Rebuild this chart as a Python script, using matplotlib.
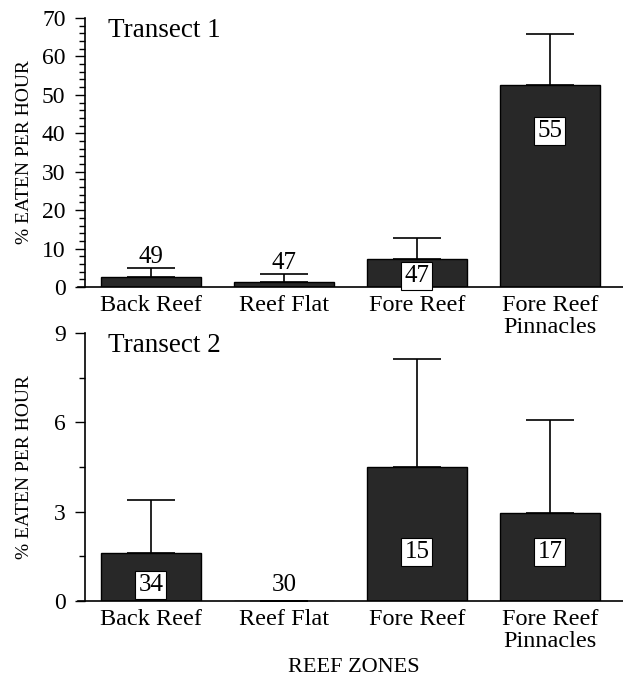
import matplotlib
matplotlib.use("Agg")
import matplotlib.pyplot as plt
import numpy as np

zones = ["Back Reef", "Reef Flat", "Fore Reef", "Fore Reef\nPinnacles"]

# transect 1: mean % eaten per hour, upper error, sample size
t1_mean = [2.6, 1.3, 7.3, 52.6]
t1_err = [2.3, 2.1, 5.5, 13.3]
t1_n = [49, 47, 47, 55]

# transect 2
t2_mean = [1.62, 0.0, 4.51, 2.96]
t2_err = [1.77, 0.0, 3.63, 3.11]
t2_n = [34, 30, 15, 17]

plt.rcParams['font.family'] = ['Liberation Serif', 'DejaVu Serif']

fig = plt.figure(figsize=(6.23, 6.80), dpi=100)
ax1 = fig.add_axes([85 / 623, 393 / 680, 538 / 623, 269 / 680])
ax2 = fig.add_axes([85 / 623, 79 / 680, 538 / 623, 268 / 680])

bar_color = '#282828'
box = dict(boxstyle='square,pad=0.12', facecolor='white', edgecolor='black', lw=0.8)


def draw_panel(ax, means, errs, ns, ymax, major, minor, title, label_y, boxed):
    x = np.arange(len(zones))
    lower = np.zeros(len(errs))
    ax.bar(x, means, width=0.75, color=bar_color, edgecolor='black', lw=1.0,
           zorder=2)
    ax.errorbar(x, means, yerr=[lower, errs], fmt='none', ecolor='black',
                elinewidth=1.2, capsize=17, capthick=1.2, zorder=1)
    for i in range(len(x)):
        ax.text(x[i], label_y[i], str(ns[i]), ha='center', va='center',
                fontsize=18, zorder=3, bbox=box if boxed[i] else None)
    ax.set_xlim(-0.496, 3.55)
    ax.set_ylim(0, ymax)
    ax.set_yticks(np.arange(0, ymax + 0.01, major))
    ax.set_yticks(np.arange(0, ymax + 0.01, minor), minor=True)
    ax.set_xticks(x)
    ax.set_xticklabels(zones, fontsize=17.5, linespacing=1.02)
    ax.tick_params(axis='x', length=0, pad=6)
    ax.tick_params(axis='y', which='major', length=7, width=1.0, labelsize=17,
                   direction='out', pad=7)
    ax.tick_params(axis='y', which='minor', length=4, width=1.0, direction='out')
    for s in ['top', 'right']:
        ax.spines[s].set_visible(False)
    for s in ['left', 'bottom']:
        ax.spines[s].set_linewidth(1.2)
    ax.spines['bottom'].set_bounds(-0.55, 3.55)
    ax.set_ylabel('% EATEN PER HOUR', fontsize=14)
    ax.text(0.043, 1.0, title, transform=ax.transAxes, fontsize=19.5,
            ha='left', va='top')


draw_panel(ax1, t1_mean, t1_err, t1_n, 70, 10, 2, 'Transect 1',
           [7.9, 6.3, 2.9, 40.6], [False, False, True, True])
draw_panel(ax2, t2_mean, t2_err, t2_n, 9, 3, 1.5, 'Transect 2',
           [0.53, 0.53, 1.65, 1.65], [True, False, True, True])

ax1.yaxis.set_label_coords(-0.097, 0.5)
ax2.yaxis.set_label_coords(-0.097, 0.5)

fig.text(354 / 623, 1 - 668 / 680, 'REEF ZONES', ha='center', va='center',
         fontsize=16)

fig.savefig('out.png', dpi=100)
